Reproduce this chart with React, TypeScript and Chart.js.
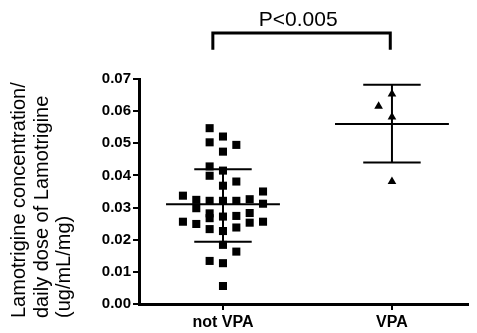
import { useEffect, useRef } from "react";
import { Chart, registerables } from "chart.js";

Chart.register(...registerables);

// ---- data ----
const categories = ["not VPA", "VPA"];

// "not VPA" individual values (ug/mL/mg) and their horizontal jitter column
const notVpaValues = [
  0.0547, 0.0521, 0.0503, 0.0495, 0.0474, 0.0428, 0.0415, 0.0399, 0.0381, 0.0368,
  0.035, 0.0337, 0.0324, 0.0321, 0.0321, 0.0321, 0.0326, 0.0312, 0.0298, 0.0282,
  0.0283, 0.0267, 0.0272, 0.0274, 0.0256, 0.0249, 0.0253, 0.0256, 0.0238, 0.0233,
  0.0227, 0.0184, 0.0163, 0.0134, 0.0127, 0.0056,
];
const notVpaColumns = [
  -1, 0, -1, 1, 0, -1, 0, -1, 1, 0,
  3, -3, -2, -1, 0, 1, 2, 3, -2, -1,
  2, -1, 0, 1, -3, -2, 2, 3, 1, -1,
  0, 0, 1, -1, 0, 0,
];

// "VPA" individual values and jitter column
const vpaValues = [0.0653, 0.0615, 0.0582, 0.0381];
const vpaColumns = [0, -1, 0, 0];

// mean and mean ± SD lines per group
const groupMeans = [0.031, 0.056];
const groupUpper = [0.0419, 0.0682];
const groupLower = [0.0194, 0.044];

const yTickValues = [0, 0.01, 0.02, 0.03, 0.04, 0.05, 0.06, 0.07];
const yTitleLines = ["Lamotrigine concentration/", "daily dose of Lamotrigine", "(ug/mL/mg)"];

const pLabel = "P<0.005";
const bracketX = [-0.06, 0.99];
const bracketY = [0.0791, 0.0843];
const pLabelPos = { x: 0.445, y: 0.0866 };

// ---- layout constants ----
const JITTER = 0.079;
const MEAN_HALF = 0.337;
const SD_HALF = 0.17;
const FONT = '"Liberation Sans", Arial, Helvetica, sans-serif';

const annotationPlugin = {
  id: "annot",
  afterDraw(chart: any) {
    const { ctx, scales, chartArea } = chart;
    const x = scales.x;
    const y = scales.y;
    ctx.save();
    // significance bracket
    const x0 = x.getPixelForValue(bracketX[0]);
    const x1 = x.getPixelForValue(bracketX[1]);
    const yb = y.getPixelForValue(bracketY[0]);
    const yt = y.getPixelForValue(bracketY[1]);
    ctx.strokeStyle = "#000";
    ctx.lineWidth = 3;
    ctx.lineJoin = "miter";
    ctx.beginPath();
    ctx.moveTo(x0, yb);
    ctx.lineTo(x0, yt);
    ctx.lineTo(x1, yt);
    ctx.lineTo(x1, yb);
    ctx.stroke();
    ctx.fillStyle = "#000";
    ctx.font = `21px ${FONT}`;
    ctx.textAlign = "center";
    ctx.textBaseline = "alphabetic";
    ctx.fillText(pLabel, x.getPixelForValue(pLabelPos.x), y.getPixelForValue(pLabelPos.y));
    // y axis title, three lines, aligned at their start (bottom)
    ctx.translate(0, chartArea.bottom + 14);
    ctx.rotate(-Math.PI / 2);
    ctx.textAlign = "left";
    ctx.font = `20px ${FONT}`;
    const baselines = [25, 47.5, 70];
    yTitleLines.forEach((line, i) => ctx.fillText(line, 0, baselines[i]));
    ctx.restore();
  },
};

export default function App() {
  const ref = useRef<HTMLCanvasElement | null>(null);

  useEffect(() => {
    if (!ref.current) return;
    const lineDs = (data: { x: number; y: number }[]) => ({
      type: "scatter" as const,
      data,
      showLine: true,
      borderColor: "#000",
      borderWidth: 2,
      pointRadius: 0,
      pointHoverRadius: 0,
      fill: false,
    });

    const lineSets: any[] = [];
    groupMeans.forEach((m, g) => {
      lineSets.push(lineDs([{ x: g - MEAN_HALF, y: m }, { x: g + MEAN_HALF, y: m }]));
      lineSets.push(lineDs([{ x: g - SD_HALF, y: groupUpper[g] }, { x: g + SD_HALF, y: groupUpper[g] }]));
      lineSets.push(lineDs([{ x: g - SD_HALF, y: groupLower[g] }, { x: g + SD_HALF, y: groupLower[g] }]));
      lineSets.push(lineDs([{ x: g, y: groupLower[g] }, { x: g, y: groupUpper[g] }]));
    });

    const chart = new Chart(ref.current, {
      type: "scatter",
      data: {
        datasets: [
          {
            data: notVpaValues.map((v, i) => ({ x: 0 + notVpaColumns[i] * JITTER, y: v })),
            pointStyle: "rect",
            pointRadius: 5.7,
            backgroundColor: "#000",
            borderColor: "#000",
            borderWidth: 0,
          },
          {
            data: vpaValues.map((v, i) => ({ x: 1 + vpaColumns[i] * JITTER, y: v })),
            pointStyle: "triangle",
            pointRadius: 5,
            backgroundColor: "#000",
            borderColor: "#000",
            borderWidth: 0,
          },
          ...lineSets,
        ],
      },
      options: {
        animation: false,
        responsive: false,
        devicePixelRatio: 1,
        layout: { padding: { top: 79, right: 9, left: 0, bottom: 0 } },
        plugins: { legend: { display: false }, tooltip: { enabled: false } },
        scales: {
          x: {
            type: "linear",
            min: -0.497,
            max: 1.45,
            afterBuildTicks: (s: any) => {
              s.ticks = categories.map((_, i) => ({ value: i }));
            },
            afterFit: (s: any) => {
              s.height = 29;
            },
            ticks: {
              autoSkip: false,
              maxRotation: 0,
              padding: 3,
              color: "#000",
              font: { family: FONT, size: 16, weight: "bold" },
              callback: (v: any) => categories[v as number] ?? "",
            },
            grid: { drawOnChartArea: false, drawTicks: true, tickLength: 6, color: "#000", lineWidth: 2 },
            border: { display: true, color: "#000", width: 3 },
          },
          y: {
            min: 0,
            max: 0.07,
            afterBuildTicks: (s: any) => {
              s.ticks = yTickValues.map((v) => ({ value: v }));
            },
            afterFit: (s: any) => {
              s.width = 139;
            },
            ticks: {
              padding: 2,
              color: "#000",
              font: { family: FONT, size: 15, weight: "bold" },
              callback: (v: any) => Number(v).toFixed(2),
            },
            grid: { drawOnChartArea: false, drawTicks: true, tickLength: 6, color: "#000", lineWidth: 2 },
            border: { display: true, color: "#000", width: 3 },
          },
        },
      },
      plugins: [annotationPlugin],
    } as any);
    return () => chart.destroy();
  }, []);

  return (
    <div style={{ position: "absolute", left: 0, top: 0, width: 477, height: 333, background: "#fff" }}>
      <canvas ref={ref} width={477} height={333} style={{ display: "block" }} />
    </div>
  );
}
